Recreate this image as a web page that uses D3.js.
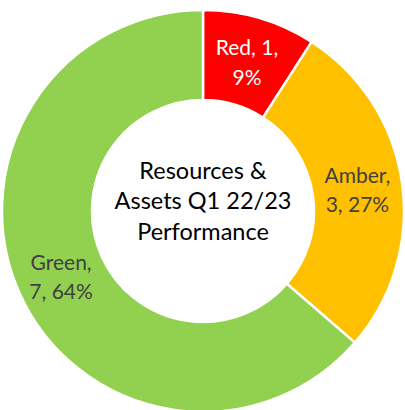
<!DOCTYPE html>
<html>
<head>
<meta charset="utf-8">
<script src="https://cdn.jsdelivr.net/npm/d3@7"></script>
<style>
  html, body { margin: 0; padding: 0; background: #fff; }
</style>
</head>
<body>
<div id="viz"></div>
<script>
// data
const categories = ["Red", "Amber", "Green"];
const counts = [1, 3, 7];
const percents = ["9%", "27%", "64%"];
const colours = ["#FF0000", "#FFC000", "#92D050"];
const labelColours = ["#FFFFFF", "#404040", "#404040"];
const titleLines = ["Resources &", "Assets Q1 22/23", "Performance"];

const width = 405;
const height = 410;
const cx = 203, cy = 211;
const outerR = 201, innerR = 111;

const svg = d3.select("#viz")
    .append("svg")
    .attr("width", width)
    .attr("height", height);

const g = svg.append("g").attr("transform", `translate(${cx},${cy})`);

const pie = d3.pie().sort(null).value(d => d.count);
const arc = d3.arc().innerRadius(innerR).outerRadius(outerR);

const data = categories.map((c, i) => ({ name: c, count: counts[i], pct: percents[i], i: i }));
const arcs = pie(data);

g.selectAll("path.slice")
    .data(arcs)
    .enter()
    .append("path")
    .attr("class", "slice")
    .attr("d", arc)
    .attr("fill", d => colours[d.data.i])
    .attr("stroke", "#fff")
    .attr("stroke-width", 2.5);

// data labels, two lines each
const labelLines = d => d.data.name === "Red"
    ? [`${d.data.name}, ${d.data.count},`, d.data.pct]
    : [`${d.data.name},`, `${d.data.count}, ${d.data.pct}`];

const labels = g.selectAll("text.lbl")
    .data(arcs)
    .enter()
    .append("text")
    .attr("class", "lbl")
    .attr("transform", d => `translate(${arc.centroid(d)})`)
    .attr("text-anchor", "middle")
    .attr("font-family", "Lato, 'Open Sans', sans-serif")
    .attr("font-size", 21)
    .attr("fill", d => labelColours[d.data.i]);

labels.each(function (d) {
    const lines = labelLines(d);
    d3.select(this).selectAll("tspan")
        .data(lines)
        .enter()
        .append("tspan")
        .attr("x", 0)
        .attr("y", (l, k) => (k - (lines.length - 1) / 2) * 29.5 + 1.5)
        .attr("dy", "0.35em")
        .text(l => l);
});

// centre title
g.append("text")
    .attr("text-anchor", "middle")
    .attr("font-family", "Lato, 'Open Sans', sans-serif")
    .attr("font-size", 23.5)
    .attr("fill", "#000")
    .selectAll("tspan")
    .data(titleLines)
    .enter()
    .append("tspan")
    .attr("x", 0)
    .attr("y", (l, k) => (k - 1) * 30.5 - 10)
    .attr("dy", "0.35em")
    .text(l => l);
</script>
</body>
</html>
